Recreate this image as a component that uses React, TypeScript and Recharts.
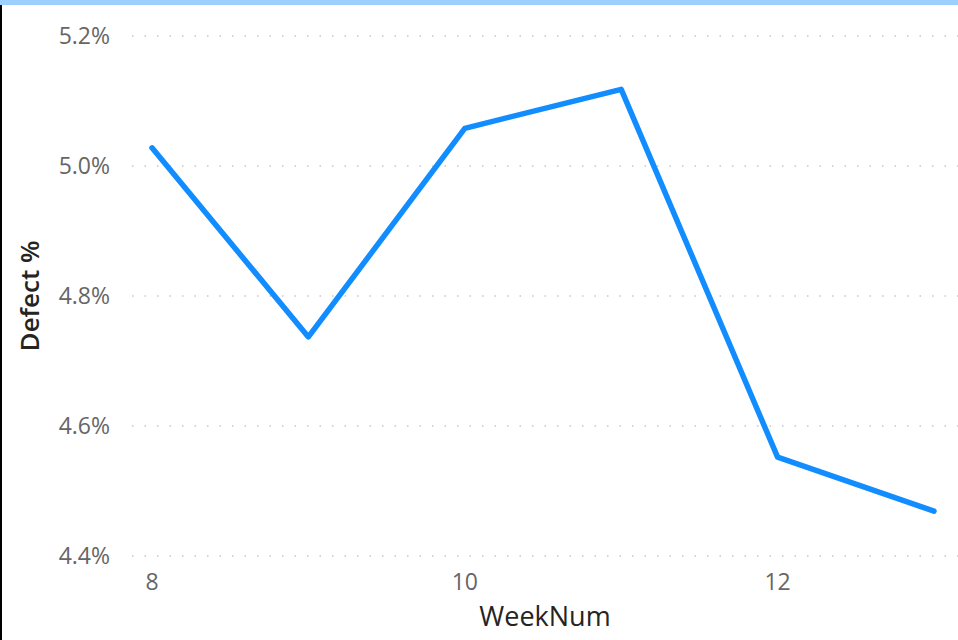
import React from 'react';
import { LineChart, Line, XAxis, YAxis, CartesianGrid, Label } from 'recharts';

const weeks = [8, 9, 10, 11, 12, 13];
const defectPct = [5.028, 4.737, 5.058, 5.118, 4.552, 4.469];
const xTicks = [8, 10, 12];
const yTicks = [4.4, 4.6, 4.8, 5.0, 5.2];

const data = weeks.map((w, i) => ({ week: w, defect: defectPct[i] }));

const FONT = '"Segoe UI", "Open Sans", "Noto Sans", sans-serif';

export default function App() {
  return (
    <div style={{ position: 'fixed', left: 0, top: 0, width: 958, height: 640, background: '#fff', overflow: 'hidden' }}>
      <div style={{ position: 'absolute', left: 0, top: 0, width: 958, height: 5, background: '#9ecfff' }} />
      <div style={{ position: 'absolute', left: 0, top: 5, width: 2, height: 635, background: '#000' }} />
      <LineChart width={958} height={640} data={data} margin={{ top: 36, right: 0, bottom: 0, left: 0 }}>
        <CartesianGrid vertical={false} stroke="#c8c8c8" strokeDasharray="1.5 11" strokeWidth={1.5} />
        <XAxis
          dataKey="week"
          type="number"
          domain={[8, 13]}
          ticks={xTicks}
          padding={{ left: 20, right: 24 }}
          axisLine={false}
          tickLine={false}
          height={84}
          tickMargin={12}
          tick={{ fill: '#666666', fontSize: 23, fontFamily: FONT }}
        >
          <Label value="WeekNum" position="insideBottom" offset={14} style={{ fill: '#252423', fontSize: 27, fontFamily: FONT, fontWeight: 500 }} />
        </XAxis>
        <YAxis
          type="number"
          domain={[4.4, 5.2]}
          ticks={yTicks}
          width={132}
          axisLine={false}
          tickLine={false}
          tickMargin={16}
          tickFormatter={(v: number) => v.toFixed(1) + '%'}
          tick={{ fill: '#666666', fontSize: 23, fontFamily: FONT }}
        >
          <Label value="Defect %" angle={-90} position="insideLeft" offset={30} style={{ fill: '#252423', fontSize: 26, fontFamily: FONT, fontWeight: 600, textAnchor: 'middle' }} />
        </YAxis>
        <Line
          type="linear"
          dataKey="defect"
          stroke="#118DFF"
          strokeWidth={5.5}
          dot={false}
          activeDot={false}
          strokeLinecap="round"
          strokeLinejoin="round"
          isAnimationActive={false}
        />
      </LineChart>
    </div>
  );
}
